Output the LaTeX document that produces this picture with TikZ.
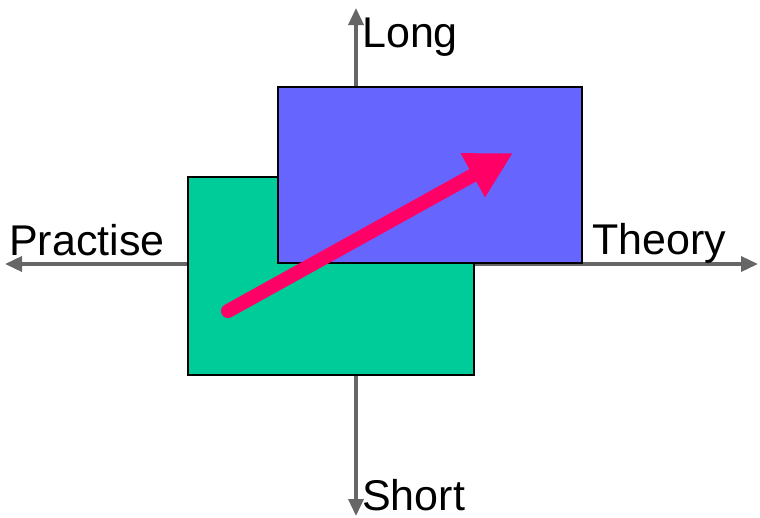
\documentclass[tikz,border=0pt]{standalone}
\usepackage{fontspec}
\setmainfont{Liberation Sans}
\usetikzlibrary{arrows.meta}
\definecolor{axisgray}{HTML}{666666}
\definecolor{practgreen}{HTML}{00CC99}
\definecolor{theoblue}{HTML}{6666FF}
\definecolor{movepink}{HTML}{FF0066}
\tikzset{
  axis/.style={axisgray, line width=3.5pt, -{Triangle[length=17pt,width=15pt]}},
  field/.style={draw=black, line width=2pt, inner sep=0pt},
  label/.style={anchor=base west, inner sep=0pt, font=\fontsize{43}{43}\selectfont}
}
\begin{document}
\begin{tikzpicture}[x=1pt, y=-1pt]
    \useasboundingbox (0,0) rectangle (760,517);

    % Achsen
    \coordinate (O) at (356,264);
    \coordinate (left) at (5,264);
    \coordinate (right) at (758,264);
    \coordinate (top) at (356,8);
    \coordinate (bottom) at (356,516);
    \draw[axis] (O) -- (left);
    \draw[axis] (O) -- (right);
    \draw[axis] (O) -- (top);
    \draw[axis] (O) -- (bottom);

    % Felder
    \node[field, fill=practgreen, minimum width=286pt, minimum height=198pt] (practice) at (331,276) {};
    \node[field, fill=theoblue, minimum width=304pt, minimum height=176pt] (theory) at (430,175) {};

    % Beschriftung
    \node[label] (long) at (362,47) {Long};
    \node[label] (short) at (362,510) {Short};
    \node[label] (practise) at (9,255) {Practise};
    \node[label] (theo) at (592,254) {Theory};

    % Entwicklung
    \coordinate (start) at (228,311);
    \coordinate (goal) at (513,153);
    \draw[movepink, line width=14pt, line cap=round, -{Triangle[length=46pt,width=47pt]}] (start) -- (goal);
\end{tikzpicture}
\end{document}
